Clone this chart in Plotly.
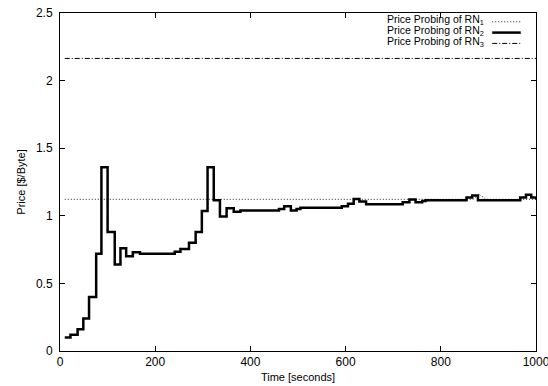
import plotly.graph_objects as go

# ---- data ----
rn1_t = [10, 868, 880, 895, 1000]
rn1_v = [1.122, 1.122, 1.16, 1.122, 1.122]

rn2_t = [10, 22, 37, 49, 61, 76, 87, 100, 115, 127, 139, 153, 168, 241, 253, 271,
         285, 298, 310, 323, 336, 350, 365, 379, 460, 471, 485, 497, 505, 592, 605,
         617, 629, 643, 720, 734, 747, 761, 768, 854, 866, 878, 967, 979, 990, 1000]
rn2_v = [0.10, 0.12, 0.16, 0.24, 0.40, 0.72, 1.36, 0.88, 0.64, 0.76, 0.70, 0.73, 0.72,
         0.735, 0.755, 0.80, 0.88, 1.035, 1.36, 1.115, 0.995, 1.055, 1.03, 1.04, 1.05,
         1.07, 1.04, 1.05, 1.06, 1.07, 1.09, 1.125, 1.105, 1.085, 1.10, 1.12, 1.10,
         1.11, 1.115, 1.135, 1.15, 1.115, 1.135, 1.155, 1.135, 1.12]

rn3_t = [10, 1000]
rn3_v = [2.164, 2.164]

names = ["Price Probing of RN<sub>1</sub>", "Price Probing of RN<sub>2</sub>",
         "Price Probing of RN<sub>3</sub>"]
x_ticks = [0, 200, 400, 600, 800, 1000]
y_ticks = [0, 0.5, 1, 1.5, 2, 2.5]

styles = [dict(color="#222", width=1, dash="1px,2px"),
          dict(color="black", width=2.5, dash="solid"),
          dict(color="black", width=1, dash="5px,2px,1px,2px")]

fig = go.Figure()
fig.add_trace(go.Scatter(x=rn1_t, y=rn1_v, mode="lines", line=styles[0], showlegend=False))
fig.add_trace(go.Scatter(x=rn2_t, y=rn2_v, mode="lines", line=dict(**styles[1], shape="hv"),
                         showlegend=False))
fig.add_trace(go.Scatter(x=rn3_t, y=rn3_v, mode="lines", line=styles[2], showlegend=False))

fam = "Liberation Sans, Arial, sans-serif"
font = dict(family=fam, size=11, color="black")
tickfont = dict(family=fam, size=12, color="black")

# legend (text right-aligned, sample on the right)
ypos = [0.978, 0.946, 0.914]
for i, n in enumerate(names):
    fig.add_annotation(xref="paper", yref="paper", x=0.895, y=ypos[i], text=n,
                       showarrow=False, xanchor="right", yanchor="middle",
                       font=dict(family=fam, size=10.5, color="black"))
    fig.add_shape(type="line", xref="paper", yref="paper", x0=0.908, x1=0.968,
                  y0=ypos[i] - 0.004, y1=ypos[i] - 0.004, line=styles[i])

axis_common = dict(showgrid=False, zeroline=False, showline=True, linecolor="black",
                   linewidth=1, mirror="ticks", ticks="inside", ticklen=5,
                   tickcolor="black", tickwidth=1, tickfont=tickfont, automargin=False,
                   ticklabeloverflow="allow")

fig.update_xaxes(range=[0, 1000], tickvals=x_ticks, ticktext=[str(v) for v in x_ticks],
                 title=dict(text="Time [seconds]", font=font, standoff=4), **axis_common)
fig.update_yaxes(range=[0, 2.5], tickvals=y_ticks, ticktext=["0", "0.5", "1", "1.5", "2", "2.5"],
                 title=dict(text="Price [$/Byte]", font=font, standoff=8),
                 ticklabelstandoff=4, **axis_common)

fig.update_layout(width=548, height=386, margin=dict(l=60, r=12, t=13, b=35),
                  plot_bgcolor="white", paper_bgcolor="white", font=font)

fig.write_html("out.html")
